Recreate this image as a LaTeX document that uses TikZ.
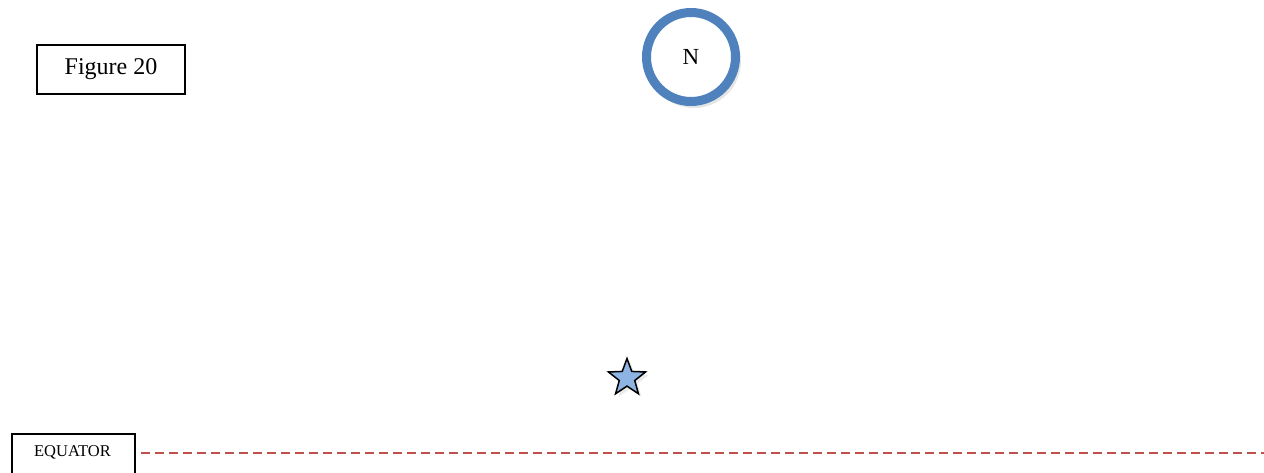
\documentclass[tikz,border=0pt]{standalone}
\usepackage{fontspec}
\setmainfont{Liberation Serif}
\usetikzlibrary{shapes.geometric}
\definecolor{ringblue}{HTML}{4F81BD}
\definecolor{starblue}{HTML}{8EB4E3}
\definecolor{eqred}{HTML}{C0504D}
\tikzset{
  labelbox/.style={draw=black, line width=2pt, fill=white, inner sep=0pt},
  eqline/.style={draw=eqred, line width=2.8pt, dash pattern=on 9pt off 5pt},
  starshape/.style={star, star points=5, star point ratio=2.4, minimum size=39pt, inner sep=0pt},
}
\begin{document}
\begin{tikzpicture}[x=1pt,y=-1pt]
\useasboundingbox (0,0) rectangle (1264,472);
\clip (0,0) rectangle (1264,472);
% Figure label
\node[labelbox, minimum width=148pt, minimum height=49pt, font=\fontsize{24}{28}\selectfont] (fig) at (111,69.5) {Figure 20};
% North circle
\fill[black!10] (694,61) circle (47);
\node[circle, draw=ringblue, line width=9pt, fill=white, minimum size=89pt, inner sep=0pt, font=\fontsize{23}{27}\selectfont] (N) at (691,57) {N};
% Star
\node[starshape, fill=black!8] (stshadow) at (630,381) {};
\node[starshape, draw=black, line width=1.5pt, fill=starblue] (st) at (627,378) {};
% Equator label
\node[labelbox, minimum width=123pt, minimum height=60pt, anchor=north west] (eq) at (11,433) {};
\node[font=\fontsize{16.5}{19}\selectfont] (eqt) at (72.5,452) {EQUATOR};
\coordinate (eqend) at (1264,453);
\draw[eqline] (eq.east |- eqend) ++(5,0) coordinate (eqstart) -- (eqend);
\end{tikzpicture}
\end{document}
